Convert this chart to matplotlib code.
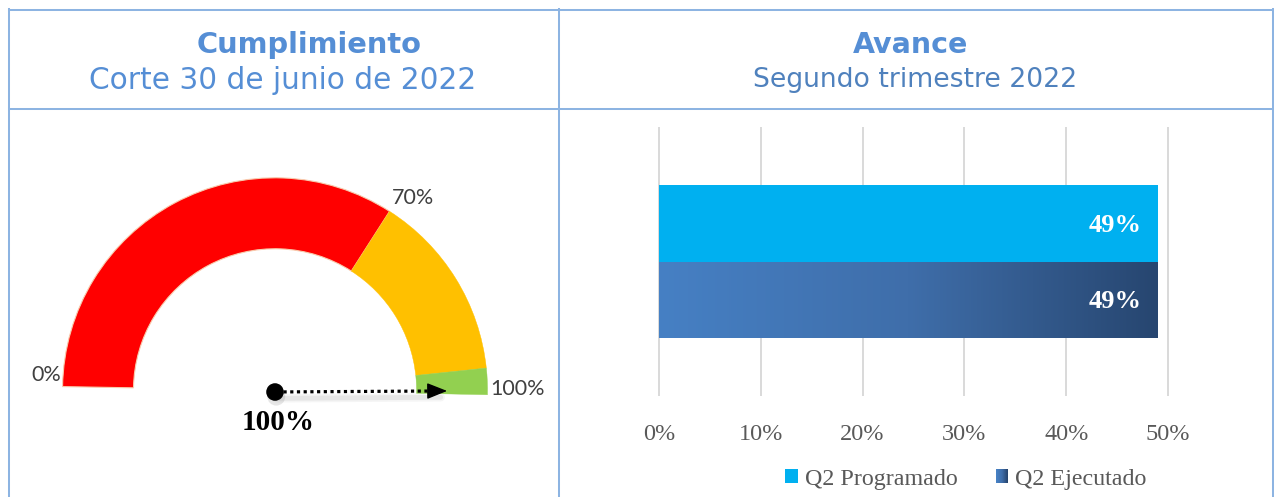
import numpy as np
import matplotlib
matplotlib.use('Agg')
import matplotlib.pyplot as plt
from matplotlib.patches import Wedge, Rectangle, Circle, Patch
from matplotlib.lines import Line2D
from matplotlib.legend_handler import HandlerBase
from matplotlib.colors import LinearSegmentedColormap

# ---------------- data ----------------
gauge_band_edges = [0, 67.5, 96, 100]
gauge_band_colors = ['#FF0000', '#FFC000', '#92D050']
gauge_tick_values = [0, 67.5, 100]
gauge_tick_labels = ['0%', '70%', '100%']
gauge_value = 100
gauge_value_label = '100%'

bar_series = ['Q2 Ejecutado', 'Q2 Programado']   # bottom to top
bar_values = [0.49, 0.49]
bar_labels = ['49%', '49%']
x_ticks = [0.0, 0.1, 0.2, 0.3, 0.4, 0.5]
x_tick_labels = ['0%', '10%', '20%', '30%', '40%', '50%']
legend_order = ['Q2 Programado', 'Q2 Ejecutado']

left_title = 'Cumplimiento'
left_subtitle = 'Corte 30 de junio de 2022'
right_title = 'Avance'
right_subtitle = 'Segundo trimestre 2022'

# ---------------- figure ----------------
W, H = 1274, 497
fig = plt.figure(figsize=(W / 100, H / 100), dpi=100)
fig.patch.set_facecolor('white')


def fx(x):
    return x / W


def fy(y):
    return 1 - y / H


# borders
border_c = '#8DB4E2'
blw = 1.45
for (x0, y0, x1, y1) in [(8.7, 10, 1272.7, 10), (8.7, 108.7, 1272.7, 108.7),
                         (8.7, 9, 8.7, 497), (558.7, 9, 558.7, 497),
                         (1272.7, 9, 1272.7, 497)]:
    fig.add_artist(Line2D([fx(x0), fx(x1)], [fy(y0), fy(y1)], color=border_c,
                          lw=blw, transform=fig.transFigure, solid_capstyle='projecting'))

title_c = '#558ED5'
fig.text(fx(309), fy(52.7), left_title, ha='center', va='baseline', fontsize=20.8,
         weight='bold', color=title_c, family='DejaVu Sans')
fig.text(fx(283), fy(89.0), left_subtitle, ha='center', va='baseline', fontsize=21.3,
         color=title_c, family='DejaVu Sans')
fig.text(fx(911), fy(52.7), right_title, ha='center', va='baseline', fontsize=20.5,
         weight='bold', color=title_c, family='DejaVu Sans')
fig.text(fx(915.5), fy(87.3), right_subtitle, ha='center', va='baseline', fontsize=19.2,
         color='#4F81BD', family='DejaVu Sans')

# ---------------- gauge ----------------
S = 212.5           # px per unit radius
CX, CY = 275, 390.3
gl, gr, gt, gb = 15, 555, 140, 460
axg = fig.add_axes([fx(gl), fy(gb), (gr - gl) / W, (gb - gt) / H])
axg.set_xlim((gl - CX) / S, (gr - CX) / S)
axg.set_ylim((CY - gb) / S, (CY - gt) / S)
axg.axis('off')

START, SWEEP = 179.0, 180.2


def ang(v):
    return START - v / 100.0 * SWEEP


R_OUT, R_IN = 1.0, 0.666
for i, col in enumerate(gauge_band_colors):
    e0, e1 = gauge_band_edges[i], gauge_band_edges[i + 1]
    w = Wedge((0, 0), R_OUT, ang(e1), ang(e0), width=R_OUT - R_IN, facecolor=col,
              edgecolor='#F8CBAD' if i == 0 else col, lw=0.8 if i == 0 else 0.3)
    axg.add_patch(w)

label_offsets = [(-1.5, 12), (2, 13.4), (3, 6)]
label_ha = ['right', 'left', 'left']
for v, lab, off, ha in zip(gauge_tick_values, gauge_tick_labels, label_offsets, label_ha):
    a = np.deg2rad(ang(v))
    axg.annotate(lab, xy=(R_OUT * np.cos(a), R_OUT * np.sin(a)), xytext=off,
                 textcoords='offset pixels', ha=ha, va='center', fontsize=15.5,
                 color='#404040', family='Lato')

# needle
pivot = (0.0, -0.008)
a = np.deg2rad(ang(gauge_value))
tip = (0.81 * np.cos(a), 0.81 * np.sin(a) + 0.014)
# soft shadow
for k, (al, lw) in enumerate([(0.08, 6), (0.12, 3.5)]):
    axg.plot([pivot[0] + 0.01, tip[0] - 0.03], [pivot[1] - 0.03, tip[1] - 0.03],
             color='#808080', lw=lw, alpha=al, solid_capstyle='round')
axg.add_patch(Circle((pivot[0] + 0.006, pivot[1] - 0.022), 0.042, color='#909090',
                     alpha=0.22, lw=0))
# dotted shaft
base = (tip[0] - 0.075, tip[1] - 0.075 * (tip[1] - pivot[1]) / (tip[0] - pivot[0]))
axg.plot([pivot[0] + 0.04, base[0]], [pivot[1] + 0.0004, base[1]], color='black', lw=2.3,
         ls=(0, (1, 1.1)), dash_capstyle='butt')
axg.annotate('', xy=tip, xytext=base,
             arrowprops=dict(arrowstyle='-|>,head_length=1.25,head_width=0.5', lw=1,
                             color='black', shrinkA=0, shrinkB=0))
axg.add_patch(Circle(pivot, 0.038, color='black', zorder=5))
axg.text(0.014, -0.152, gauge_value_label, ha='center', va='center', fontsize=21,
         weight='bold', family='Liberation Serif', color='black')

# ---------------- bar chart ----------------
bl, br, bt, bb = 659, 1168, 128, 395
axb = fig.add_axes([fx(bl), fy(bb), (br - bl) / W, (bb - bt) / H])
ypos = np.arange(len(bar_series)) - 0.5
colors = ['#4680C4', '#00B0F0']
bars = axb.barh(ypos, bar_values, height=1.0, color=colors, zorder=2)

grad_cmap = LinearSegmentedColormap.from_list('g', ['#4680C4', '#3F6EAA', '#274670'])
b = bars[0]
b.set_facecolor('none')
b.set_edgecolor('none')
x0, y0 = b.get_x(), b.get_y()
gradient = np.linspace(0, 1, 256).reshape(1, -1)
im = axb.imshow(gradient, extent=[x0, x0 + b.get_width(), y0, y0 + b.get_height()],
                aspect='auto', cmap=grad_cmap, zorder=2)
im.set_clip_path(b)

axb.set_xlim(0, 0.5)
axb.set_ylim(-1.734, 1.734)
axb.set_xticks(x_ticks)
axb.set_xticklabels(x_tick_labels, fontsize=17.5, family='Liberation Serif', color='#595959')
axb.set_yticks([])
axb.tick_params(axis='x', length=0, pad=21)
axb.grid(axis='x', color='#D9D9D9', lw=1.4, zorder=0)
axb.set_axisbelow(True)
for gline in axb.get_xgridlines():
    gline.set_clip_on(False)
for sp in axb.spines.values():
    sp.set_visible(False)

for yv, v, lab in zip(ypos, bar_values, bar_labels):
    axb.annotate(lab, xy=(v, yv), xytext=(-16, -2), textcoords='offset pixels',
                 ha='right', va='center', color='white', fontsize=19, weight='bold',
                 family='Liberation Serif', zorder=4)


class GradHandler(HandlerBase):
    def create_artists(self, legend, orig_handle, xdescent, ydescent, width, height,
                       fontsize, trans):
        n = 12
        arts = []
        for i in range(n):
            r = Rectangle((-xdescent + i * width / n, -ydescent), width / n + 0.3, height,
                          facecolor=grad_cmap(i / (n - 1)), edgecolor='none', transform=trans)
            arts.append(r)
        return arts


h_prog = Patch(facecolor='#00B0F0', edgecolor='none')
h_ejec = Patch(facecolor='#3F6EAA', edgecolor='none')
leg = fig.legend([h_prog, h_ejec], legend_order, loc='center',
                 bbox_to_anchor=(fx(966), fy(479)), ncol=2, frameon=False,
                 handlelength=0.5, handleheight=0.5, handletextpad=0.3, columnspacing=1.6,
                 prop={'family': 'Liberation Serif', 'size': 17.3},
                 handler_map={h_ejec: GradHandler()})
for t in leg.get_texts():
    t.set_color('#595959')

fig.savefig('out.png', dpi=100, facecolor='white')
